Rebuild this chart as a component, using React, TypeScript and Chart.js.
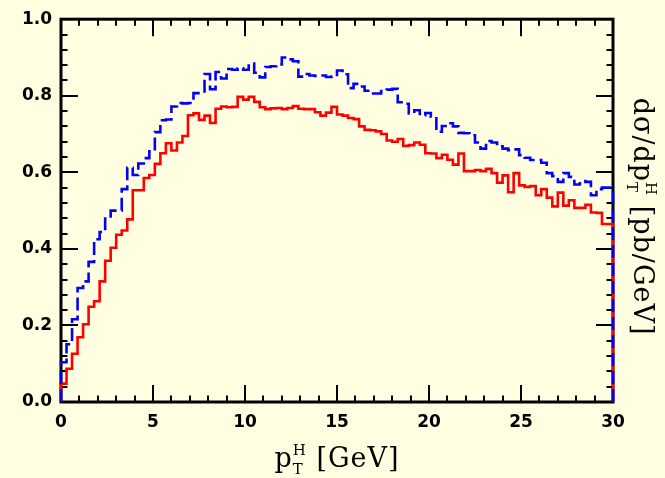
import React, { useEffect, useRef } from "react";
import { Chart, registerables } from "chart.js";

Chart.register(...registerables);

// Histogram binning (GeV)
const BIN_LOW = 0;
const BIN_WIDTH = 0.3;

// Axis settings
const xTickValues = [0, 5, 10, 15, 20, 25, 30];
const yTickValues = [0, 0.2, 0.4, 0.6, 0.8, 1.0];

// Series: solid red histogram
const redValues = [
  0.015, 0.048, 0.087, 0.126, 0.169, 0.203, 0.249, 0.263, 0.315, 0.369,
  0.403, 0.437, 0.448, 0.477, 0.553, 0.553, 0.585, 0.593, 0.622, 0.650,
  0.676, 0.657, 0.678, 0.695, 0.749, 0.754, 0.737, 0.748, 0.729, 0.766,
  0.772, 0.770, 0.771, 0.797, 0.790, 0.797, 0.784, 0.770, 0.765, 0.767,
  0.768, 0.765, 0.768, 0.773, 0.766, 0.765, 0.765, 0.757, 0.748, 0.756,
  0.771, 0.751, 0.748, 0.742, 0.739, 0.720, 0.711, 0.710, 0.707, 0.700,
  0.683, 0.680, 0.687, 0.669, 0.671, 0.678, 0.672, 0.650, 0.649, 0.637,
  0.646, 0.633, 0.620, 0.649, 0.603, 0.603, 0.606, 0.603, 0.609, 0.598,
  0.573, 0.592, 0.548, 0.598, 0.566, 0.562, 0.564, 0.540, 0.556, 0.534,
  0.511, 0.547, 0.513, 0.527, 0.507, 0.507, 0.515, 0.495, 0.494, 0.465,
];

// Series: dashed blue histogram
const blueValues = [
  0.035, 0.104, 0.151, 0.216, 0.298, 0.315, 0.366, 0.425, 0.444, 0.485,
  0.500, 0.500, 0.556, 0.612, 0.593, 0.623, 0.637, 0.655, 0.705, 0.736,
  0.738, 0.772, 0.781, 0.780, 0.781, 0.807, 0.807, 0.857, 0.817, 0.862,
  0.845, 0.870, 0.868, 0.872, 0.868, 0.884, 0.860, 0.848, 0.875, 0.877,
  0.882, 0.900, 0.895, 0.890, 0.850, 0.857, 0.853, 0.852, 0.853, 0.849,
  0.850, 0.866, 0.856, 0.820, 0.831, 0.824, 0.813, 0.806, 0.806, 0.812,
  0.816, 0.818, 0.783, 0.779, 0.754, 0.762, 0.749, 0.755, 0.745, 0.706,
  0.721, 0.728, 0.720, 0.703, 0.702, 0.697, 0.678, 0.662, 0.682, 0.678,
  0.668, 0.662, 0.658, 0.660, 0.645, 0.638, 0.632, 0.632, 0.625, 0.598,
  0.590, 0.575, 0.598, 0.588, 0.568, 0.577, 0.575, 0.540, 0.556, 0.560,
];

const BG = "#FFFEE0";

function stepPoints(values: number[]) {
  const pts: { x: number; y: number }[] = [{ x: BIN_LOW, y: 0 }];
  values.forEach((v, i) => pts.push({ x: BIN_LOW + i * BIN_WIDTH, y: v }));
  const end = BIN_LOW + values.length * BIN_WIDTH;
  pts.push({ x: end, y: values[values.length - 1] });
  pts.push({ x: end, y: 0 });
  return pts;
}

const bgPlugin = {
  id: "bgFill",
  beforeDraw(chart: any) {
    const { ctx, width, height } = chart;
    ctx.save();
    ctx.fillStyle = BG;
    ctx.fillRect(0, 0, width, height);
    ctx.restore();
  },
};

const framePlugin = {
  id: "frameTicks",
  beforeDatasetsDraw(chart: any) {
    const { ctx, chartArea, scales } = chart;
    const { left, right, top, bottom } = chartArea;
    const xs = scales.x;
    const ys = scales.y;
    ctx.save();
    ctx.strokeStyle = "#000";
    ctx.lineCap = "butt";
    ctx.lineWidth = 2;
    const MAJ = 17;
    const MIN = 6.5;
    for (let v = 0; v <= 30; v += 1) {
      const px = Math.round(xs.getPixelForValue(v));
      const len = v % 5 === 0 ? MAJ : MIN;
      ctx.beginPath();
      ctx.moveTo(px, bottom);
      ctx.lineTo(px, bottom - len);
      ctx.moveTo(px, top);
      ctx.lineTo(px, top + len);
      ctx.stroke();
    }
    for (let i = 0; i <= 25; i++) {
      const v = i * 0.04;
      const py = Math.round(ys.getPixelForValue(v));
      const len = i % 5 === 0 ? MAJ : MIN;
      ctx.beginPath();
      ctx.moveTo(left, py);
      ctx.lineTo(left + len, py);
      ctx.moveTo(right, py);
      ctx.lineTo(right - len, py);
      ctx.stroke();
    }
    ctx.lineWidth = 3;
    ctx.strokeRect(left, top, right - left, bottom - top);
    ctx.restore();
  },
};

type Part = { text: string; size: number; sub?: string; sup?: string };

const SMALL = 15;

function drawRich(ctx: CanvasRenderingContext2D, parts: Part[], family: string, weight: string) {
  (ctx as any).letterSpacing = "1px";
  const widths = parts.map((p) => {
    ctx.font = `${weight} ${p.size}px ${family}`;
    let w = ctx.measureText(p.text).width;
    if (p.sub || p.sup) {
      ctx.font = `${weight} ${SMALL}px ${family}`;
      const ws = p.sub ? ctx.measureText(p.sub).width : 0;
      const wp = p.sup ? ctx.measureText(p.sup).width : 0;
      w += Math.max(ws, wp);
    }
    return w;
  });
  const total = widths.reduce((a, b) => a + b, 0);
  let x = -total / 2;
  parts.forEach((p, i) => {
    ctx.font = `${weight} ${p.size}px ${family}`;
    ctx.fillText(p.text, x, 0);
    const w0 = ctx.measureText(p.text).width;
    if (p.sub || p.sup) {
      ctx.font = `${weight} ${SMALL}px ${family}`;
      if (p.sub) ctx.fillText(p.sub, x + w0, 7);
      if (p.sup) ctx.fillText(p.sup, x + w0, -12);
    }
    x += widths[i];
  });
}

const titlePlugin = {
  id: "axisTitles",
  afterDraw(chart: any) {
    const { ctx, chartArea } = chart;
    const family = "'DejaVu Serif', 'Liberation Serif', serif";
    ctx.save();
    ctx.fillStyle = "#000";
    ctx.textAlign = "left";
    ctx.textBaseline = "alphabetic";
    ctx.save();
    ctx.translate((chartArea.left + chartArea.right) / 2, 467);
    drawRich(
      ctx,
      [
        { text: "p", size: 27, sub: "T", sup: "H" },
        { text: " [GeV]", size: 27 },
      ],
      family,
      "normal"
    );
    ctx.restore();
    ctx.save();
    ctx.translate(634, (chartArea.top + chartArea.bottom) / 2 + 6);
    ctx.rotate(Math.PI / 2);
    drawRich(
      ctx,
      [
        { text: "d\u03C3/dp", size: 27, sub: "T", sup: "H" },
        { text: " [pb/GeV]", size: 27 },
      ],
      family,
      "normal"
    );
    ctx.restore();
    ctx.restore();
  },
};

export default function App() {
  const ref = useRef<HTMLCanvasElement | null>(null);

  useEffect(() => {
    document.body.style.margin = "0";
    document.body.style.background = BG;
    const canvas = ref.current;
    if (!canvas) return;
    const chart = new Chart(canvas, {
      type: "line",
      data: {
        datasets: [
          {
            label: "blue dashed",
            data: stepPoints(blueValues),
            borderColor: "#0000FF",
            borderWidth: 2.6,
            borderDash: [13, 5],
            stepped: "after",
            pointRadius: 0,
            fill: false,
            clip: false as any,
          },
          {
            label: "red solid",
            data: stepPoints(redValues),
            borderColor: "#FF0000",
            borderWidth: 2.6,
            stepped: "after",
            pointRadius: 0,
            fill: false,
            clip: false as any,
          },
        ],
      },
      options: {
        animation: false,
        responsive: false,
        devicePixelRatio: 1,
        events: [],
        layout: { padding: { left: 0, right: 52, top: 14, bottom: 0 } },
        plugins: {
          legend: { display: false },
          tooltip: { enabled: false },
        },
        scales: {
          x: {
            type: "linear",
            min: 0,
            max: 30,
            grid: { display: false, drawTicks: false },
            border: { display: false },
            afterFit: (s: any) => {
              s.height = 76;
            },
            afterBuildTicks: (s: any) => {
              s.ticks = xTickValues.map((v) => ({ value: v }));
            },
            ticks: {
              autoSkip: false,
              maxRotation: 0,
              padding: 10,
              color: "#000",
              font: { family: "'DejaVu Sans', sans-serif", size: 17, weight: "bold" },
              callback: (v: any) => String(v),
            },
          },
          y: {
            type: "linear",
            min: 0,
            max: 1,
            grid: { display: false, drawTicks: false },
            border: { display: false },
            afterFit: (s: any) => {
              s.width = 61;
            },
            afterBuildTicks: (s: any) => {
              s.ticks = yTickValues.map((v) => ({ value: v }));
            },
            ticks: {
              autoSkip: false,
              padding: 9,
              color: "#000",
              font: { family: "'DejaVu Sans', sans-serif", size: 17, weight: "bold" },
              callback: (v: any) => Number(v).toFixed(1),
            },
          },
        },
      },
      plugins: [bgPlugin, framePlugin, titlePlugin],
    });
    return () => chart.destroy();
  }, []);

  return (
    <div style={{ width: 665, height: 478, background: BG }}>
      <canvas ref={ref} width={665} height={478} style={{ display: "block" }} />
    </div>
  );
}
